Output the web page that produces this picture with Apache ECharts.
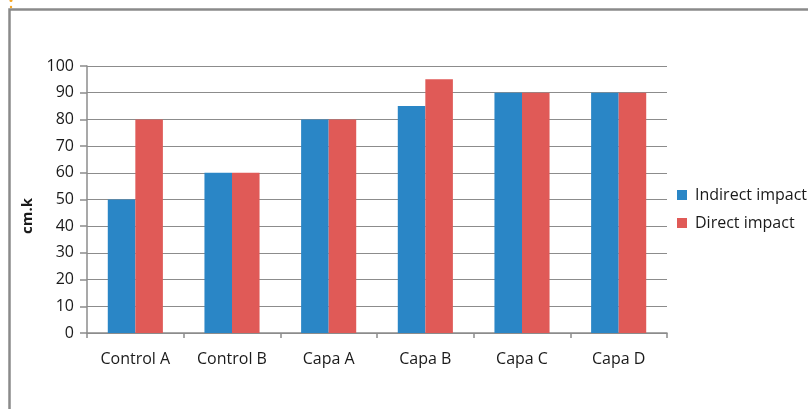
<!DOCTYPE html>
<html>
<head>
<meta charset="utf-8">
<script src="https://cdn.jsdelivr.net/npm/echarts@6/dist/echarts.min.js"></script>
<style>
  html, body { margin: 0; padding: 0; background: #fff; }
  #chart { width: 808px; height: 409px; }
</style>
</head>
<body>
<div id="chart"></div>
<script>
// Groups along the x axis
const categories = ['Control A', 'Control B', 'Capa A', 'Capa B', 'Capa C', 'Capa D'];
// Measured values (cm.k) per group
const indirectImpact = [50, 60, 80, 85, 90, 90];
const directImpact = [80, 60, 80, 95, 90, 90];
const seriesNames = ['Indirect impact', 'Direct impact'];
const yAxisTitle = 'cm.k';

const font = 'Open Sans, Lato, sans-serif';
const chart = echarts.init(document.getElementById('chart'));

chart.setOption({
  animation: false,
  backgroundColor: '#fff',
  textStyle: { fontFamily: font },
  graphic: [
    // outer frame of the chart box
    {
      type: 'rect',
      shape: { x: 9.5, y: 9.5, width: 900, height: 500 },
      style: { fill: 'none', stroke: '#8a8a8a', lineWidth: 2.5 },
      silent: true
    },
    // small orange selection marks at the corner
    { type: 'circle', shape: { cx: 11, cy: 0.5, r: 1.5 }, style: { fill: '#f5a623' }, silent: true },
    { type: 'circle', shape: { cx: 11, cy: 7, r: 1.2 }, style: { fill: '#f5a623' }, silent: true },
    {
      type: 'text',
      x: 28, y: 216,
      rotation: Math.PI / 2,
      style: {
        text: yAxisTitle, fill: '#1a1a1a', font: 'bold 15px ' + font,
        align: 'center', verticalAlign: 'middle'
      }
    }
  ],
  legend: {
    orient: 'vertical',
    left: 672,
    top: 182,
    itemWidth: 10,
    itemHeight: 10,
    itemGap: 12,
    icon: 'rect',
    textStyle: { fontSize: 16, color: '#1a1a1a', fontFamily: font, padding: [0, 0, 0, 3] },
    data: seriesNames
  },
  grid: { left: 87, right: 141, top: 66, bottom: 76, containLabel: false },
  xAxis: {
    type: 'category',
    data: categories,
    axisLine: { lineStyle: { color: '#8c8c8c', width: 1.5 } },
    axisTick: { show: true, length: 5, lineStyle: { color: '#8c8c8c', width: 1.5 } },
    axisLabel: { color: '#1a1a1a', fontSize: 16, margin: 18, fontFamily: font }
  },
  yAxis: {
    type: 'value',
    min: 0, max: 100, interval: 10,
    axisLine: { show: true, lineStyle: { color: '#8c8c8c', width: 1.5 } },
    axisTick: { show: true, length: 7, lineStyle: { color: '#8c8c8c', width: 1.5 } },
    axisLabel: { color: '#1a1a1a', fontSize: 16, margin: 13, fontFamily: font },
    splitLine: { lineStyle: { color: '#8c8c8c', width: 1.2 } }
  },
  series: [
    {
      name: seriesNames[0], type: 'bar', data: indirectImpact,
      itemStyle: { color: '#2a86c6' },
      barGap: '0%', barCategoryGap: '43%'
    },
    {
      name: seriesNames[1], type: 'bar', data: directImpact,
      itemStyle: { color: '#e05a57' },
      barGap: '0%', barCategoryGap: '43%'
    }
  ]
});
</script>
</body>
</html>
